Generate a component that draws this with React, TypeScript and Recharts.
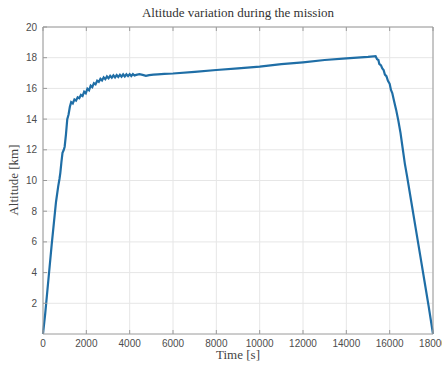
import { CartesianGrid, Line, LineChart, XAxis, YAxis } from "recharts";

const times = [
  0, 100, 200, 300, 400, 500, 600, 700, 760, 800, 850, 900, 960, 1000, 1060, 1120, 1180, 1240,
  1300, 1375, 1450, 1525, 1600, 1675, 1750, 1825, 1900, 1975, 2050, 2125, 2200, 2275, 2350, 2425,
  2500, 2575, 2650, 2725, 2800, 2875, 2950, 3025, 3100, 3175, 3250, 3325, 3400, 3475, 3550, 3625,
  3700, 3775, 3850, 3925, 4000, 4075, 4150, 4225, 4300, 4450, 4600, 4750, 4900, 5100, 5300, 5600,
  6000, 7000, 8000, 9000, 10000, 11000, 12000, 13000, 14000, 15000, 15350, 15420, 15480, 15520,
  15600, 15660, 15720, 15780, 15850, 15920, 16000, 16060, 16120, 16200, 16300, 16400, 16500, 16600,
  16700, 16800, 17000, 17200, 17400, 17600, 17800, 18000,
];

const altitudes = [
  0, 1.3, 2.8, 4.3, 5.8, 7.2, 8.6, 9.6, 10.1, 10.5, 11.2, 11.8, 12.0, 12.2, 13.0, 14.0, 14.3, 14.8,
  15.1, 15.02, 15.28, 15.2, 15.42, 15.36, 15.58, 15.5, 15.78, 15.68, 15.98, 15.88, 16.18, 16.08, 16.34, 16.26,
  16.5, 16.42, 16.62, 16.52, 16.72, 16.6, 16.78, 16.66, 16.82, 16.7, 16.85, 16.72, 16.87, 16.74, 16.89, 16.76,
  16.91, 16.78, 16.92, 16.8, 16.93, 16.81, 16.93, 16.84, 16.88, 16.93, 16.88, 16.82, 16.86, 16.9, 16.92, 16.94,
  16.97, 17.08, 17.2, 17.3, 17.42, 17.58, 17.7, 17.85, 17.95, 18.05, 18.1, 17.9, 17.85, 17.6,
  17.5, 17.3, 17.2, 16.9, 16.8, 16.5, 16.3, 15.9, 15.7, 15.2, 14.6, 13.9, 13.1, 12.1,
  11.1, 10.3, 8.6, 6.9, 5.2, 3.5, 1.8, 0,
];

const xTicks = [0, 2000, 4000, 6000, 8000, 10000, 12000, 14000, 16000, 18000];
const yTicks = [2, 4, 6, 8, 10, 12, 14, 16, 18, 20];

const data = times.map((t, i) => ({ t, alt: altitudes[i] }));

const tickFont = "'Liberation Sans', Arial, sans-serif";
const serif = "'Liberation Serif', 'DejaVu Serif', serif";
const tickColor = "#4d4d4d";
const frameColor = "#9a9a9a";

const BottomTick = (props: any) => {
  const { x, y, payload } = props;
  return (
    <g>
      <line x1={x} y1={y} x2={x} y2={y - 4} stroke={frameColor} />
      <text x={x} y={y + 13} textAnchor="middle" fontSize={10} fontFamily={tickFont} fill={tickColor}>
        {payload.value}
      </text>
    </g>
  );
};

const TopTick = (props: any) => {
  const { x, y } = props;
  return <line x1={x} y1={y} x2={x} y2={y + 4} stroke={frameColor} />;
};

const LeftTick = (props: any) => {
  const { x, y, payload } = props;
  return (
    <g>
      <line x1={x} y1={y} x2={x + 4} y2={y} stroke={frameColor} />
      <text x={x - 6} y={y + 3.5} textAnchor="end" fontSize={10} fontFamily={tickFont} fill={tickColor}>
        {payload.value}
      </text>
    </g>
  );
};

const RightTick = (props: any) => {
  const { x, y } = props;
  return <line x1={x} y1={y} x2={x - 4} y2={y} stroke={frameColor} />;
};

export default function App() {
  return (
    <div style={{ position: "absolute", left: 0, top: 0, width: 442, height: 365, background: "#fff" }}>
      <LineChart width={442} height={365} data={data} margin={{ top: 26, right: 8, bottom: 0, left: 0 }}>
        <CartesianGrid
          xAxisId="bottom"
          yAxisId="left"
          stroke="#e6e6e6"
          horizontalValues={yTicks}
          verticalValues={xTicks}
        />
        <XAxis
          xAxisId="bottom"
          dataKey="t"
          type="number"
          domain={[0, 18000]}
          ticks={xTicks}
          interval={0}
          tickSize={0}
          tickMargin={0}
          tick={<BottomTick />}
          tickLine={false}
          stroke={frameColor}
          height={31}
        />
        <XAxis
          xAxisId="top"
          orientation="top"
          dataKey="t"
          type="number"
          domain={[0, 18000]}
          ticks={xTicks}
          interval={0}
          tickSize={0}
          tickMargin={0}
          tick={<TopTick />}
          tickLine={false}
          stroke={frameColor}
          height={1}
        />
        <YAxis
          yAxisId="left"
          type="number"
          domain={[0, 20]}
          ticks={yTicks}
          interval={0}
          tickSize={0}
          tickMargin={0}
          tick={<LeftTick />}
          tickLine={false}
          stroke={frameColor}
          width={43}
        />
        <YAxis
          yAxisId="right"
          orientation="right"
          type="number"
          domain={[0, 20]}
          ticks={yTicks}
          interval={0}
          tickSize={0}
          tickMargin={0}
          tick={<RightTick />}
          tickLine={false}
          stroke={frameColor}
          width={1}
        />
        <Line
          xAxisId="bottom"
          yAxisId="left"
          dataKey="alt"
          type="linear"
          stroke="#1f6ea6"
          strokeWidth={2.2}
          dot={false}
          isAnimationActive={false}
        />
        <text x={238} y={17} textAnchor="middle" fontSize={13} fontFamily={serif} fill="#333">
          Altitude variation during the mission
        </text>
        <text x={238} y={359} textAnchor="middle" fontSize={13} fontFamily={serif} fill="#444">
          Time [s]
        </text>
        <text
          x={18}
          y={180}
          textAnchor="middle"
          fontSize={13}
          fontFamily={serif}
          fill="#444"
          transform="rotate(-90 18 180)"
        >
          Altitude [km]
        </text>
      </LineChart>
    </div>
  );
}
